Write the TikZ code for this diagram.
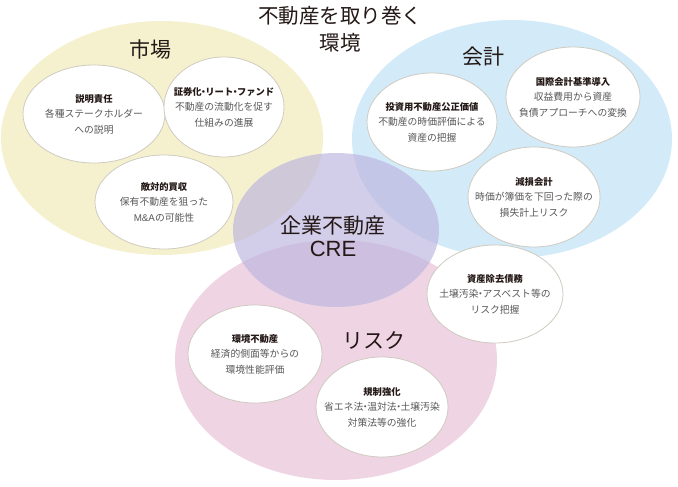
\documentclass[tikz,border=0pt]{standalone}
\usepackage{fontspec}
\setmainfont{Noto Sans CJK JP}
\newfontfamily\lat{Liberation Sans}
\usetikzlibrary{shapes.geometric}
\definecolor{cyel}{HTML}{F5F1CF}
\definecolor{cblu}{HTML}{D3EAF8}
\definecolor{cpnk}{HTML}{EFD4E3}
\definecolor{cpur}{RGB}{188,182,222}
\definecolor{cbord}{HTML}{CFCBC0}
\definecolor{ctxt}{HTML}{231815}
\definecolor{cbody}{HTML}{595757}
\tikzset{
  big/.style={ellipse, inner sep=0pt, draw=none},
  bub/.style={ellipse, inner sep=0pt, fill=white, draw=cbord, line width=0.8pt},
  lbl/.style={text=ctxt, font=\fontsize{21}{24}\selectfont, inner sep=0pt},
  btxt/.style={align=center, text=cbody, font=\fontsize{9.8}{15.5}\selectfont, inner sep=0pt},
}
\newcommand{\hd}[1]{{\bfseries\color{ctxt}\fontsize{9.3}{15.5}\selectfont #1}}
\newcommand{\dt}{\hspace{-0.3em}・\hspace{-0.3em}}
\begin{document}
\begin{tikzpicture}[x=1pt,y=-1pt]
\path[use as bounding box] (0,0) rectangle (678,487);
\node[big, fill=cyel, minimum width=322pt, minimum height=234pt] (yel) at (162,138) {};
\node[big, fill=cblu, minimum width=320pt, minimum height=238pt] (blu) at (512,139) {};
\node[big, fill=cpnk, minimum width=322pt, minimum height=240pt] (pnk) at (336,360) {};
\node[big, fill=cpur, fill opacity=0.68, minimum width=206pt, minimum height=154pt] (pur) at (336,230) {};

\node[lbl, align=center, font=\fontsize{20.5}{27}\selectfont] (title) at (340,29) {不動産を取り巻く\\環境};
\node[lbl] (l1) at (150,50) {市場};
\node[lbl] (l2) at (483,57) {会計};
\node[lbl] (l3) at (374,340) {リスク};
\node[lbl, align=center, font=\fontsize{21}{23}\selectfont] (l4) at (333,236) {企業不動産\\{\lat\fontsize{22}{23}\selectfont CRE}};

\node[bub, minimum width=142pt, minimum height=98pt] (b1) at (94,114) {};
\node[btxt] (t1) at (b1) {\hd{説明責任}\\各種ステークホルダー\\への説明};
\node[bub, minimum width=120pt, minimum height=100pt] (b2) at (224,107) {};
\node[btxt] (t2) at (b2) {\hd{証券化\dt リート\dt ファンド}\\不動産の流動化を促す\\仕組みの進展};
\node[bub, minimum width=138pt, minimum height=94pt] (b3) at (164,202) {};
\node[btxt] (t3) at (b3) {\hd{敵対的買収}\\保有不動産を狙った\\{\lat M\&A}の可能性};

\node[bub, minimum width=130pt, minimum height=98pt] (b4) at (432,122) {};
\node[btxt] (t4) at (b4) {\hd{投資用不動産公正価値}\\不動産の時価評価による\\資産の把握};
\node[bub, minimum width=134pt, minimum height=100pt] (b5) at (573,97) {};
\node[btxt] (t5) at (b5) {\hd{国際会計基準導入}\\収益費用から資産\\負債アプローチへの変換};
\node[bub, minimum width=132pt, minimum height=100pt] (b6) at (534,197) {};
\node[btxt] (t6) at (b6) {\hd{減損会計}\\時価が簿価を下回った際の\\損失計上リスク};
\node[bub, minimum width=136pt, minimum height=98pt] (b7) at (495,294) {};
\node[btxt] (t7) at (b7) {\hd{資産除去債務}\\土壌汚染\dt アスベスト等の\\リスク把握};

\node[bub, minimum width=134pt, minimum height=98pt] (b8) at (255,354) {};
\node[btxt] (t8) at (b8) {\hd{環境不動産}\\経済的側面等からの\\環境性能評価};
\node[bub, minimum width=132pt, minimum height=100pt] (b9) at (382,407) {};
\node[btxt] (t9) at (b9) {\hd{規制強化}\\省エネ法\dt 温対法\dt 土壌汚染\\対策法等の強化};
\end{tikzpicture}
\end{document}
